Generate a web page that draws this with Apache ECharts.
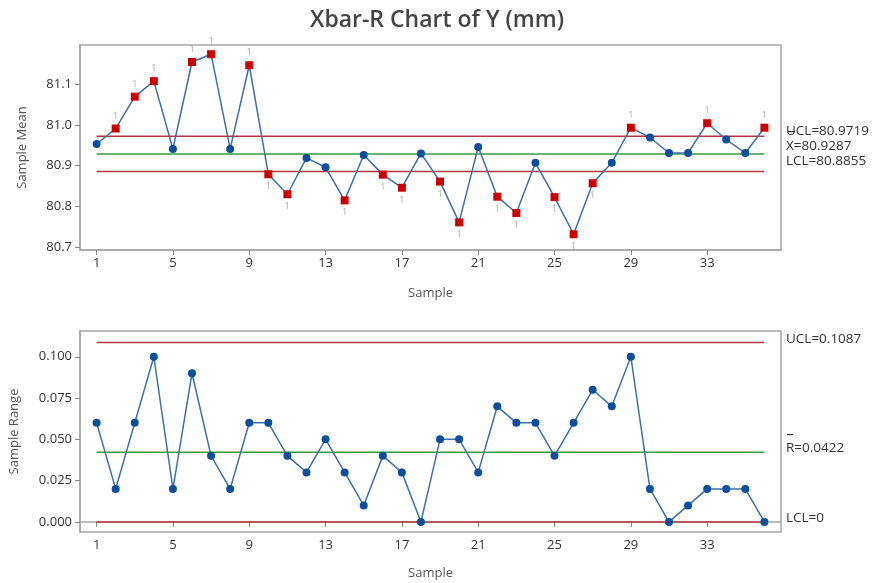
<!DOCTYPE html>
<html>
<head>
<meta charset="utf-8">
<script src="https://cdn.jsdelivr.net/npm/echarts@6/dist/echarts.min.js"></script>
<style>html,body{margin:0;padding:0;background:#fff}#c{width:874px;height:583px}</style>
</head>
<body>
<div id="c"></div>
<script>
// ---- data ----
const samples = Array.from({length: 36}, (_, i) => i + 1);
const sampleMean = [80.953, 80.991, 81.069, 81.107, 80.941, 81.154, 81.173, 80.941, 81.146, 80.879,
  80.830, 80.919, 80.896, 80.815, 80.926, 80.878, 80.846, 80.930, 80.861, 80.761,
  80.946, 80.824, 80.784, 80.907, 80.823, 80.732, 80.857, 80.907, 80.993, 80.969,
  80.931, 80.931, 81.004, 80.964, 80.931, 80.993];
const sampleRange = [0.06, 0.02, 0.06, 0.10, 0.02, 0.09, 0.04, 0.02, 0.06, 0.06,
  0.04, 0.03, 0.05, 0.03, 0.01, 0.04, 0.03, 0.00, 0.05, 0.05,
  0.03, 0.07, 0.06, 0.06, 0.04, 0.06, 0.08, 0.07, 0.10, 0.02,
  0.00, 0.01, 0.02, 0.02, 0.02, 0.00];
const xbarLimits = {UCL: 80.9719, CL: 80.9287, LCL: 80.8855};
const rLimits = {UCL: 0.1087, CL: 0.0422, LCL: 0};
const xTicks = [1, 5, 9, 13, 17, 21, 25, 29, 33];
const meanTicks = [80.7, 80.8, 80.9, 81.0, 81.1];
const rangeTicks = [0, 0.025, 0.05, 0.075, 0.1];

// ---- styles ----
const FONT = 'Open Sans';
const BLUE = '#0b4f9c';
const LINEBLUE = '#3b70aa';
const RED = '#cc0000';
const LIMRED = '#b23a3a';
const GREEN = '#3c9a3c';
const BORDER = '#a6a6a6';

const meanData = sampleMean.map((v, i) => {
  const hi = v > xbarLimits.UCL, lo = v < xbarLimits.LCL;
  if (hi || lo) {
    return {
      value: [samples[i], v], symbol: 'rect', symbolSize: 8,
      itemStyle: {color: RED},
      label: {show: true, formatter: '1', position: hi ? 'top' : 'bottom', distance: 4,
        fontSize: 9, color: '#a8a8a8', fontFamily: FONT}
    };
  }
  return {value: [samples[i], v]};
});
const rangeData = sampleRange.map((v, i) => [samples[i], v]);

function limitLine(val, color, xi, yi) {
  return {
    type: 'line', xAxisIndex: xi, yAxisIndex: yi, symbol: 'none', silent: true,
    data: [[samples[0], val], [samples[samples.length - 1], val]],
    lineStyle: {color: color, width: 1.5}, z: 1
  };
}

function xAxis(gi, gap) {
  return {
    type: 'value', gridIndex: gi, min: 0.13, max: 36.87,
    name: 'Sample', nameLocation: 'middle', nameGap: gap,
    nameTextStyle: {fontFamily: FONT, fontSize: 13, color: '#555'},
    axisLine: {show: true, lineStyle: {color: BORDER, width: 1.5}},
    axisTick: {show: true, length: 5, lineStyle: {color: '#888'}, customValues: xTicks},
    axisLabel: {fontFamily: FONT, fontSize: 13, color: '#333', margin: 7, customValues: xTicks,
      formatter: v => String(v)},
    splitLine: {show: false}
  };
}
function yAxis(gi, min, max, ticks, dec, name, gap) {
  return {
    type: 'value', gridIndex: gi, min: min, max: max,
    name: name, nameLocation: 'middle', nameGap: gap, nameRotate: 90,
    nameTextStyle: {fontFamily: FONT, fontSize: 13, color: '#555'},
    axisLine: {show: true, lineStyle: {color: BORDER, width: 1.5}},
    axisTick: {show: true, length: 5, lineStyle: {color: '#888'}, customValues: ticks},
    axisLabel: {fontFamily: FONT, fontSize: 13, color: '#333', margin: 8, customValues: ticks,
      formatter: v => Number(v).toFixed(dec)},
    splitLine: {show: false}
  };
}

const txt = (x, y, t) => ({type: 'text', left: x, top: y,
  style: {text: t, fontFamily: FONT, fontSize: 13.5, fill: '#333'}});

const option = {
  animation: false,
  backgroundColor: '#fff',
  title: {text: 'Xbar-R Chart of Y (mm)', left: 'center', top: 4,
    textStyle: {fontFamily: FONT, fontSize: 23, fontWeight: 600, color: '#444'}},
  grid: [
    {left: 80, right: 93, top: 45, height: 205, show: true, borderColor: BORDER, borderWidth: 1.5},
    {left: 80, right: 93, top: 331, height: 201, show: true, borderColor: BORDER, borderWidth: 1.5}
  ],
  xAxis: [xAxis(0, 37), xAxis(1, 35)],
  yAxis: [
    yAxis(0, 80.6934, 81.1956, meanTicks, 1, 'Sample Mean', 51),
    yAxis(1, -0.0061, 0.1156, rangeTicks, 3, 'Sample Range', 59)
  ],
  series: [
    limitLine(xbarLimits.UCL, LIMRED, 0, 0),
    limitLine(xbarLimits.CL, GREEN, 0, 0),
    limitLine(xbarLimits.LCL, LIMRED, 0, 0),
    {type: 'line', xAxisIndex: 0, yAxisIndex: 0, data: meanData, symbol: 'circle', symbolSize: 8,
      itemStyle: {color: BLUE}, lineStyle: {color: LINEBLUE, width: 1.5}, z: 3},
    limitLine(rLimits.UCL, LIMRED, 1, 1),
    limitLine(rLimits.CL, GREEN, 1, 1),
    limitLine(rLimits.LCL, LIMRED, 1, 1),
    {type: 'line', xAxisIndex: 1, yAxisIndex: 1, data: rangeData, symbol: 'circle', symbolSize: 8,
      itemStyle: {color: BLUE}, lineStyle: {color: LINEBLUE, width: 1.5}, z: 3}
  ],
  graphic: [
    txt(786, 124, 'UCL=' + xbarLimits.UCL),
    txt(786, 139, 'X=' + xbarLimits.CL),
    {type: 'rect', shape: {x: 788, y: 131, width: 7, height: 1.2}, style: {fill: '#333'}},
    txt(786, 154, 'LCL=' + xbarLimits.LCL),
    txt(786, 332, 'UCL=' + rLimits.UCL),
    {type: 'rect', shape: {x: 787, y: 434, width: 6, height: 1.2}, style: {fill: '#333'}},
    txt(786, 441, 'R=' + rLimits.CL),
    txt(786, 511, 'LCL=' + rLimits.LCL)
  ]
};
const chart = echarts.init(document.getElementById('c'), null, {renderer: 'canvas'});
chart.setOption(option);
</script>
</body>
</html>
